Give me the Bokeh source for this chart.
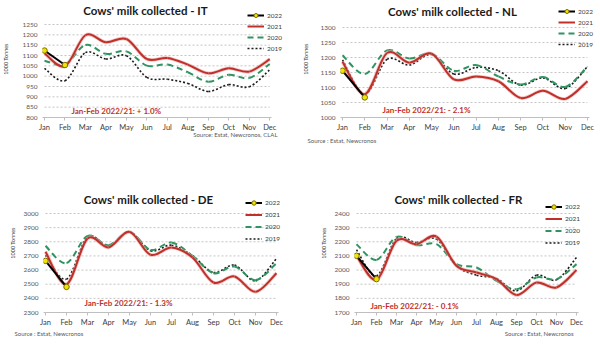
import numpy as np
from bokeh.plotting import figure
from bokeh.models import Range1d, FixedTicker, Label, Legend, LegendItem, ColumnDataSource, Title
from bokeh.layouts import column, row
from bokeh.embed import file_html
from bokeh.resources import INLINE

months = ["Jan", "Feb", "Mar", "Apr", "May", "Jun", "Jul", "Aug", "Sep", "Oct", "Nov", "Dec"]
series_names = ["2022", "2021", "2020", "2019"]

# Italy (1000 t)
it_2022 = [1124, 1054]
it_2021 = [1111, 1048, 1198, 1164, 1180, 1083, 1088, 1056, 1014, 1038, 1022, 1082]
it_2020 = [1075, 1056, 1151, 1108, 1120, 1051, 1056, 1019, 973, 1007, 991, 1059]
it_2019 = [1038, 978, 1114, 1083, 1099, 994, 985, 965, 926, 959, 949, 1031]
it_yticks = [800, 850, 900, 950, 1000, 1050, 1100, 1150, 1200, 1250]

# Netherlands
nl_2022 = [1156, 1067]
nl_2021 = [1186, 1078, 1215, 1183, 1213, 1127, 1137, 1121, 1065, 1089, 1062, 1121]
nl_2020 = [1208, 1145, 1224, 1197, 1213, 1156, 1175, 1137, 1110, 1135, 1102, 1170]
nl_2019 = [1192, 1078, 1194, 1175, 1210, 1145, 1167, 1156, 1108, 1132, 1097, 1170]
nl_yticks = [1000, 1050, 1100, 1150, 1200, 1250, 1300]

# Germany
de_2022 = [2665, 2481]
de_2021 = [2729, 2500, 2823, 2760, 2870, 2708, 2760, 2689, 2512, 2555, 2446, 2578]
de_2020 = [2771, 2649, 2842, 2776, 2870, 2743, 2795, 2701, 2578, 2625, 2529, 2649]
de_2019 = [2705, 2536, 2835, 2771, 2870, 2736, 2776, 2701, 2583, 2635, 2524, 2682]
de_yticks = [2300, 2400, 2500, 2600, 2700, 2800, 2900, 3000]

# France
fr_2022 = [2101, 1936]
fr_2021 = [2101, 1931, 2207, 2183, 2237, 2030, 1983, 1936, 1823, 1912, 1877, 2000]
fr_2020 = [2183, 2072, 2235, 2176, 2183, 2042, 2018, 1924, 1865, 1948, 1936, 2042]
fr_2019 = [2143, 1959, 2223, 2195, 2219, 2030, 1964, 1940, 1853, 1964, 1931, 2089]
fr_yticks = [1700, 1800, 1900, 2000, 2100, 2200, 2300, 2400]

titles = ["Cows' milk collected - IT", "Cows' milk collected - NL",
          "Cows' milk collected - DE", "Cows' milk collected - FR"]
notes = ["Jan-Feb 2022/21: + 1.0%", "Jan-Feb 2022/21: - 2.1%",
         "Jan-Feb 2022/21: - 1.3%", "Jan-Feb 2022/21: - 0.1%"]
sources = ["Source: Estat, Newcronos, CLAL", "Source : Estat, Newcronos",
           "Source : Estat, Newcronos", "Source : Estat, Newcronos"]
y_label = "1000 Tonnes"

FONT = "Lato"
RED = "#c0302a"
GREEN = "#2f9461"
NOTE_RED = "#c0302a"
W, H = 300, 173


def bez_source(vals):
    n = len(vals)
    def P(i):
        return vals[min(max(i, 0), n - 1)]
    def X(i):
        return float(min(max(i, 0), n - 1))
    d = dict(x0=[], y0=[], x1=[], y1=[], cx0=[], cy0=[], cx1=[], cy1=[])
    for i in range(n - 1):
        d["x0"].append(i); d["y0"].append(vals[i])
        d["x1"].append(i + 1); d["y1"].append(vals[i + 1])
        d["cx0"].append(i + (X(i + 1) - X(i - 1)) / 6)
        d["cy0"].append(vals[i] + (P(i + 1) - P(i - 1)) / 6)
        d["cx1"].append(i + 1 - (X(i + 2) - X(i)) / 6)
        d["cy1"].append(vals[i + 1] - (P(i + 2) - P(i)) / 6)
    return ColumnDataSource(d)


def make_panel(data, yticks, title, note, source, geom):
    jan_x, dec_x, ytop, ybot = geom["plot"]
    fl = jan_x - 2
    fb = ybot
    sp = (dec_x - jan_x) / 11.0
    upp = (yticks[-1] - yticks[0]) / float(ybot - ytop)
    x0r = -2.0 / sp
    x1r = (W - jan_x) / sp
    y1r = yticks[-1] + ytop * upp
    p = figure(width=W, height=H, output_backend="svg", toolbar_location=None,
               x_range=Range1d(x0r, x1r), y_range=Range1d(yticks[0], y1r),
               min_border_left=fl, min_border_right=0,
               min_border_top=0, min_border_bottom=H - fb)
    p.outline_line_color = None
    p.background_fill_color = "white"
    p.border_fill_color = "white"

    p.xaxis.ticker = FixedTicker(ticks=list(range(12)))
    p.xaxis.bounds = (x0r, 11 + 2.0 / sp)
    p.xaxis.major_label_overrides = {i: m for i, m in enumerate(months)}
    p.xaxis.major_label_text_font = FONT
    p.xaxis.major_label_text_font_size = "7.5px"
    p.xaxis.major_label_text_color = "#404040"
    p.xaxis.major_label_standoff = 2
    p.xaxis.axis_line_color = "#bfbfbf"
    p.xaxis.major_tick_line_color = "#bfbfbf"
    p.xaxis.major_tick_out = 3
    p.xaxis.major_tick_in = 0
    p.xaxis.minor_tick_line_color = None
    p.xaxis.minor_tick_out = 0
    p.xaxis.minor_tick_in = 0

    p.yaxis.ticker = FixedTicker(ticks=yticks)
    p.yaxis.bounds = (yticks[0], yticks[-1])
    p.yaxis.major_label_text_font = FONT
    p.yaxis.major_label_text_font_size = "6.5px"
    p.yaxis.major_label_text_color = "#595959"
    p.yaxis.major_label_standoff = 5
    p.yaxis.axis_line_color = None
    p.yaxis.major_tick_line_color = None
    p.yaxis.major_tick_out = 0
    p.yaxis.major_tick_in = 0
    p.yaxis.minor_tick_line_color = None
    p.yaxis.minor_tick_out = 0
    p.yaxis.minor_tick_in = 0
    p.yaxis.axis_label = y_label
    p.yaxis.axis_label_text_font = FONT
    p.yaxis.axis_label_text_font_size = "5.5px"
    p.yaxis.axis_label_text_font_style = "normal"
    p.yaxis.axis_label_text_color = "#404040"
    p.yaxis.axis_label_standoff = geom["ylabel_standoff"]

    p.xgrid.grid_line_color = None
    p.ygrid.grid_line_color = None

    # horizontal gridlines at the y ticks, spanning Jan..Dec
    p.segment(x0=[0] * len(yticks), x1=[11] * len(yticks), y0=yticks, y1=yticks,
              line_color="#c4c4c4", line_width=1, line_dash="2 2")

    v22, v21, v20, v19 = data
    r19 = p.bezier(x0="x0", y0="y0", x1="x1", y1="y1", cx0="cx0", cy0="cy0", cx1="cx1", cy1="cy1",
                   source=bez_source(v19), line_color="#1a1a1a", line_width=1.6, line_dash="2 2")
    r20 = p.bezier(x0="x0", y0="y0", x1="x1", y1="y1", cx0="cx0", cy0="cy0", cx1="cx1", cy1="cy1",
                   source=bez_source(v20), line_color=GREEN, line_width=2, line_dash="6 4")
    p.bezier(x0="x0", y0="y0", x1="x1", y1="y1", cx0="cx0", cy0="cy0", cx1="cx1", cy1="cy1",
             source=bez_source(v21), line_color="#e7a3a0", line_width=3.6, line_alpha=0.6)
    r21 = p.bezier(x0="x0", y0="y0", x1="x1", y1="y1", cx0="cx0", cy0="cy0", cx1="cx1", cy1="cy1",
                   source=bez_source(v21), line_color=RED, line_width=2)
    src22 = ColumnDataSource(dict(x=list(range(len(v22))), y=v22))
    r22 = p.line("x", "y", source=src22, line_color="black", line_width=2)
    r22m = p.scatter("x", "y", source=src22, size=5.5, fill_color="#f0e400",
                     line_color="#7a6c00", line_width=1)

    lg = geom["legend"]
    legend = Legend(items=[LegendItem(label="2022", renderers=[r22, r22m]),
                           LegendItem(label="2021", renderers=[r21]),
                           LegendItem(label="2020", renderers=[r20]),
                           LegendItem(label="2019", renderers=[r19])],
                    location=(lg[0] - fl, fb - lg[1]),
                    orientation="vertical", border_line_color=None,
                    background_fill_alpha=0, padding=0, margin=0, spacing=1,
                    glyph_width=17, glyph_height=lg[2], label_height=lg[2],
                    label_standoff=3, label_text_font=FONT, label_text_font_size="6.5px",
                    label_text_color="#404040", label_text_baseline="middle")
    p.add_layout(legend)

    def txt(cx, cy, t, size, color, bold=False, align="left"):
        p.add_layout(Label(x=cx - fl, y=fb - cy, x_units="screen", y_units="screen", text=t,
                           text_font=FONT, text_font_size=size, text_color=color,
                           text_font_style="bold" if bold else "normal",
                           text_align=align, text_baseline="middle"))

    tx, ty = geom["title"]
    txt(tx, ty, title, "11.5px", "#1a1a1a", bold=True, align="center")
    nx, ny = geom["note"]
    txt(nx, ny, note, "8px", NOTE_RED, bold=True)

    sx, salign, sstand = geom["source"]
    offset = (W - sx) if salign == "right" else (sx - fl)
    p.add_layout(Title(text=source, align=salign, offset=offset, standoff=sstand,
                       vertical_align="top", text_font=FONT, text_font_size="6px",
                       text_font_style="normal", text_color="#595959"), "below")
    return p


geoms = [
    dict(plot=(42, 269, 24, 117), legend=(245, 53, 10), title=(143, 10), note=(69, 110),
         source=(277, "right", -7), ylabel_standoff=10),
    dict(plot=(42, 287, 28, 121), legend=(258, 53, 10), title=(152, 15), note=(82, 113),
         source=(7, "left", 5), ylabel_standoff=8),
    dict(plot=(45, 276, 40, 139), legend=(245, 71, 11), title=(148, 26), note=(84, 129),
         source=(14, "left", 1), ylabel_standoff=4),
    dict(plot=(56, 276, 40, 139), legend=(245, 75, 11), title=(158, 26), note=(70, 132),
         source=(273, "right", 1), ylabel_standoff=4),
]

datas = [
    (it_2022, it_2021, it_2020, it_2019),
    (nl_2022, nl_2021, nl_2020, nl_2019),
    (de_2022, de_2021, de_2020, de_2019),
    (fr_2022, fr_2021, fr_2020, fr_2019),
]
ticks = [it_yticks, nl_yticks, de_yticks, fr_yticks]

panels = [make_panel(datas[i], ticks[i], titles[i], notes[i], sources[i], geoms[i]) for i in range(4)]

layout = column(row(panels[0], panels[1], spacing=0), row(panels[2], panels[3], spacing=0), spacing=0)

open("out.html", "w").write(file_html(layout, INLINE))
